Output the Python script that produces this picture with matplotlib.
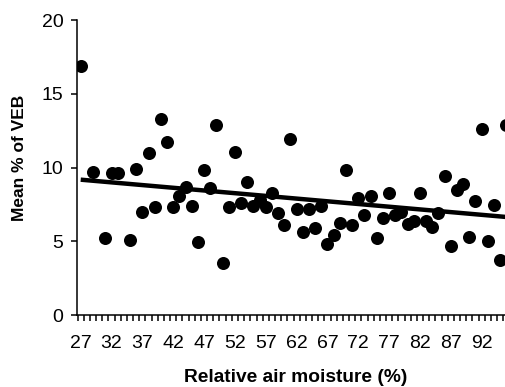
import numpy as np
import matplotlib
matplotlib.use('Agg')
import matplotlib.pyplot as plt

plt.rcParams['font.family'] = ['Liberation Sans', 'DejaVu Sans']

# 相对空气湿度 (%) 与 VEB 平均百分比
moisture = [27, 29, 31, 32, 33, 35, 36, 37, 38, 39, 40, 41, 42, 43, 44, 45, 46, 47, 48, 49,
            50, 51, 52, 53, 54, 55, 56, 57, 58, 59, 60, 61, 62, 63, 64, 65, 66, 67, 68, 69,
            70, 71, 72, 73, 74, 75, 76, 77, 78, 79, 80, 81, 82, 83, 84, 85, 86, 87, 88, 89,
            90, 91, 92, 93, 94, 95, 96]
veb = [16.9, 9.7, 5.2, 9.6, 9.65, 5.1, 9.9, 7.0, 11.0, 7.3, 13.3, 11.7, 7.3, 8.1, 8.7, 7.4,
       4.95, 9.8, 8.6, 12.9, 3.5, 7.3, 11.05, 7.6, 9.0, 7.4, 7.8, 7.3, 8.3, 6.9, 6.1, 11.9,
       7.2, 5.6, 7.2, 5.9, 7.4, 4.8, 5.4, 6.25, 9.85, 6.1, 7.95, 6.75, 8.05, 5.25, 6.55, 8.25,
       6.8, 7.0, 6.15, 6.35, 8.25, 6.35, 6.0, 6.9, 9.4, 4.7, 8.5, 8.85, 5.3, 7.75, 12.6, 5.0,
       7.45, 3.7, 12.85]
xtick_labels = [27, 32, 37, 42, 47, 52, 57, 62, 67, 72, 77, 82, 87, 92]

fig = plt.figure(figsize=(5.06, 3.87), dpi=100)
ax = fig.add_axes([0.1528, 0.186, 0.8472, 0.7623])

x = np.array(moisture)
y = np.array(veb)
k, b = np.polyfit(x, y, 1)  # 线性趋势线
xl = np.array([x.min(), x.max()])
ax.plot(xl, k * xl + b, color='black', lw=3.2, solid_capstyle='butt', zorder=2)
ax.scatter(x, y, s=88, color='black', zorder=3, linewidths=0)

ax.set_xlim(26.45, 95.95)
ax.set_ylim(0, 20)
ax.set_yticks([0, 5, 10, 15, 20])
ax.set_xticks(xtick_labels)
ax.set_xticks(np.arange(26.5, 96.5, 1), minor=True)
ax.tick_params(axis='x', which='major', length=0, pad=14.4, labelsize=14)
ax.tick_params(axis='x', which='minor', length=4, width=1.1, direction='out')
ax.tick_params(axis='y', length=4, width=1.1, direction='out', labelsize=14, pad=6)

for s in ['top', 'right']:
    ax.spines[s].set_visible(False)
for s in ['left', 'bottom']:
    ax.spines[s].set_linewidth(1.1)

fig.text(295.3 / 506, 5.3 / 387, 'Relative air moisture (%)', fontsize=13.8,
         fontweight='bold', ha='center', va='baseline')
fig.text(19.7 / 506, 229 / 387, 'Mean % of VEB', fontsize=12.5, fontweight='bold',
         rotation=90, ha='center', va='center')

fig.savefig('out.png', dpi=100)
